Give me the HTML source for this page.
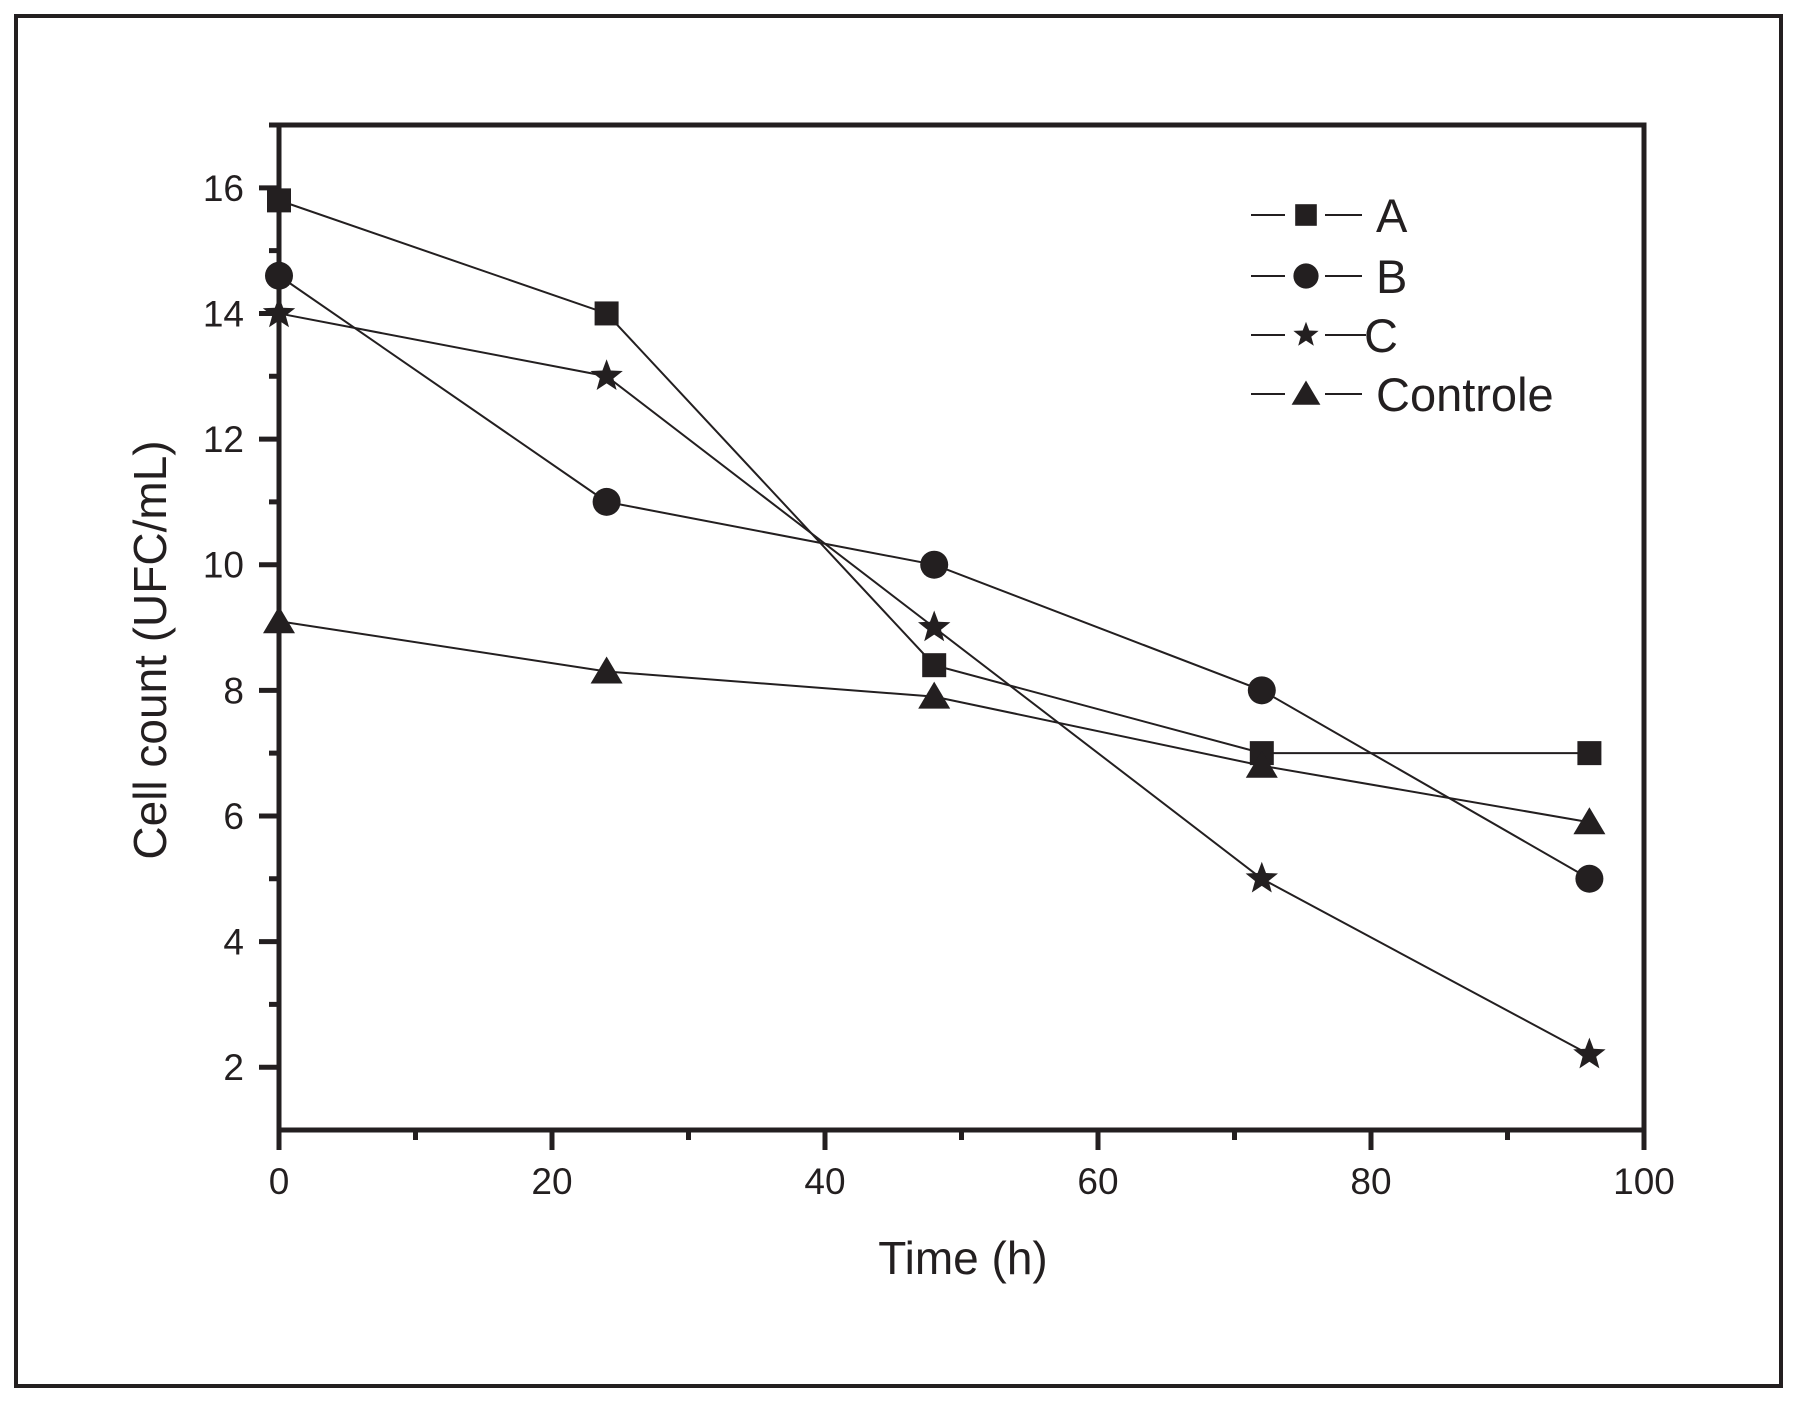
<!DOCTYPE html>
<html><head><meta charset="utf-8"><style>
body{margin:0;background:#fff}
svg{display:block}
text{font-family:"Liberation Sans",Arial,sans-serif;fill:#231f20}
</style></head><body>
<svg id="chart" width="1803" height="1410" viewBox="0 0 1803 1410" xmlns="http://www.w3.org/2000/svg">
<rect x="16" y="16" width="1765" height="1370" fill="none" stroke="#231f20" stroke-width="4"/>
<g id="axes"></g>
<g id="series"></g>
<g id="legend"></g>
<text x="963" y="1274" font-size="46" text-anchor="middle">Time (h)</text>
<text transform="translate(166,650) rotate(-90)" font-size="46" text-anchor="middle">Cell count (UFC/mL)</text>
</svg>
<script>
const times=[0,24,48,72,96];
const seriesA=[15.8,14,8.4,7,7];
const seriesB=[14.6,11,10,8,5];
const seriesC=[14,13,9,5,2.2];
const seriesControle=[9.1,8.3,7.9,6.8,5.9];
const seriesNames=["A","B","C","Controle"];
const xTicks=[0,20,40,60,80,100];
const yTicks=[2,4,6,8,10,12,14,16];

const NS="http://www.w3.org/2000/svg";
const L=279,R=1644,T=125,B=1130,XMIN=0,XMAX=100,YMIN=1,YMAX=17;
const xs=v=>L+(v-XMIN)/(XMAX-XMIN)*(R-L);
const ys=v=>B-(v-YMIN)/(YMAX-YMIN)*(B-T);
function mk(tag,attrs,parent){const e=document.createElementNS(NS,tag);for(const k in attrs)e.setAttribute(k,attrs[k]);parent.appendChild(e);return e;}
const C="#231f20";
const axes=document.getElementById('axes');
let e=mk('rect',{x:L,y:T,width:R-L,height:B-T,fill:'none',stroke:C,'stroke-width':5},axes);


xTicks.forEach(t=>{
 let l=mk('line',{x1:xs(t),x2:xs(t),y1:B,y2:B+20,stroke:C,'stroke-width':5},axes);
 
 
 let m=mk('line',{x1:xs(t+10),x2:xs(t+10),y1:B,y2:B+10,stroke:C,'stroke-width':5},axes);
 if(t+10>XMAX)m.remove();
 
 
 let tx=mk('text',{x:xs(t),y:1194,'font-size':37,'text-anchor':'middle'},axes);tx.textContent=t;
 
 
});
yTicks.forEach(t=>{
 let l=mk('line',{x1:L-20,x2:L,y1:ys(t),y2:ys(t),stroke:C,'stroke-width':5},axes);
 
 
 let tx=mk('text',{x:244,y:ys(t)+13,'font-size':37,'text-anchor':'end'},axes);tx.textContent=t;
 
 
});
[1,3,5,7,9,11,13,15,17].forEach(t=>{
 if(t===YMIN)return;
 let m=mk('line',{x1:L-10,x2:L,y1:ys(t),y2:ys(t),stroke:C,'stroke-width':5},axes);
 
 
});
function star(cx,cy,r){let p=[];for(let i=0;i<10;i++){const a=-Math.PI/2+i*Math.PI/5;const rr=i%2?r*0.42:r;p.push((cx+rr*Math.cos(a)).toFixed(1)+','+(cy+rr*Math.sin(a)).toFixed(1));}return p.join(' ');}
function marker(kind,x,y,g,s){
 let m;
 if(kind==="A")m=mk('rect',{x:x-12*s,y:y-12*s,width:24*s,height:24*s,fill:C},g);
 else if(kind==="B")m=mk('circle',{cx:x,cy:y,r:14*s,fill:C},g);
 else if(kind==="C")m=mk('polygon',{points:star(x,y,17*s),fill:C},g);
 else m=mk('polygon',{points:`${x},${y-15*s} ${x+16*s},${y+12*s} ${x-16*s},${y+12*s}`,fill:C},g);
 return m;
}
const data=[seriesA,seriesB,seriesC,seriesControle];
const sg=document.getElementById('series');
data.forEach((vals,si)=>{
 const g=mk('g',{},sg);
 
 
 const pl=mk('polyline',{points:vals.map((v,i)=>xs(times[i])+','+ys(v)).join(' '),fill:'none',stroke:C,'stroke-width':2},g);
 
 
 vals.forEach((v,i)=>{
  const m=marker(seriesNames[si],xs(times[i]),ys(v),g,1);
  
  
 });
});
const lg=document.getElementById('legend');
const rowsY=[215,276,335,394];
seriesNames.forEach((n,i)=>{
 const g=mk('g',{},lg);
 
 
 const y=rowsY[i];
 mk('line',{x1:1251,x2:1285,y1:y,y2:y,stroke:C,'stroke-width':2},g);
 mk('line',{x1:1325,x2:(n==="C"?1366:1362),y1:y,y2:y,stroke:C,'stroke-width':2},g);
 marker(n,1306,y,g,n==="C"?0.78:0.9);
 const t=mk('text',{x:n==="C"?1364:1376,y:y+17,'font-size':47},g);t.textContent=n;
});
</script>
</body></html>
